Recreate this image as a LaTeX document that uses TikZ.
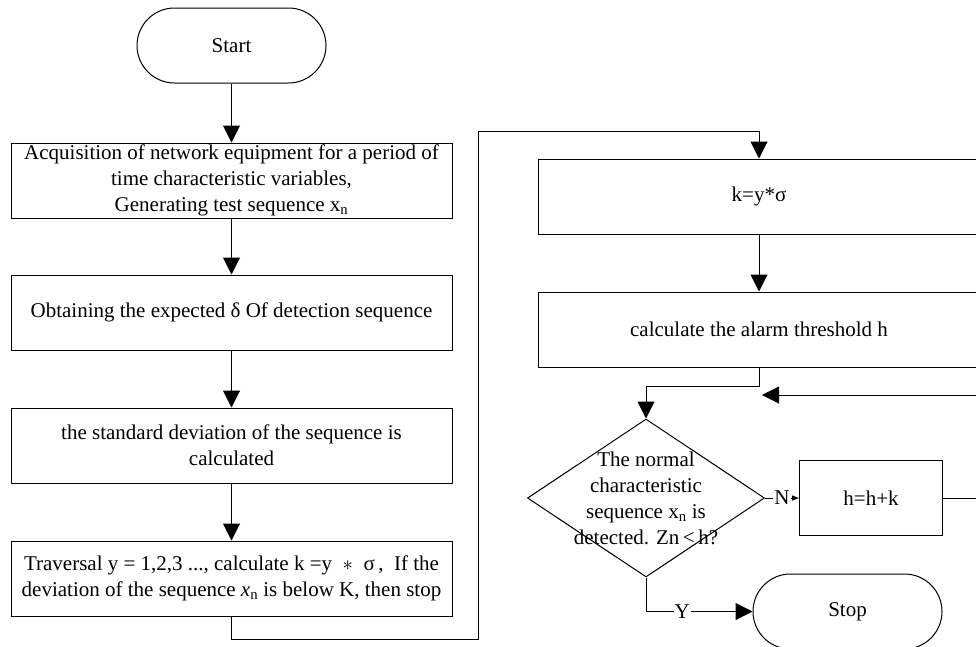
\documentclass[tikz,border=0pt]{standalone}
\usepackage{fontspec}
\setmainfont{Liberation Serif}
\usepackage{tikz}
\usetikzlibrary{arrows.meta,positioning,shapes.geometric,calc}

\begin{document}
\begin{tikzpicture}[x=1pt, y=-1pt,
  every node/.style={font=\fontsize{21}{26}\selectfont},
  stepbox/.style={draw, line width=1pt, minimum width=441pt, minimum height=75pt,
              inner sep=1pt, align=center},
  term/.style={draw, line width=1pt, rounded corners=37.5pt, minimum width=189pt,
              minimum height=75pt},
  cond/.style={draw, line width=1pt, diamond, inner sep=0pt, minimum width=237pt,
              minimum height=158pt},
  arr/.style={-{Triangle[length=17pt, width=17pt]}, line width=1pt},
  lbl/.style={fill=white, inner sep=1pt}
]
  \useasboundingbox (0,0) rectangle (976,646);
  \clip (0,0) rectangle (976,646);

  % left column
  \node[term] (start) at (231.5,45.5) {Start};
  \node[stepbox, below=59pt of start] (acq)
    {Acquisition of network equipment for a period of\\
     time characteristic variables,\\
     Generating test sequence x\textsubscript{n}};
  \node[stepbox, below=56pt of acq]  (mean) {Obtaining the expected δ Of detection sequence};
  \node[stepbox, below=57pt of mean] (dev)
    {the standard deviation of the sequence is\\calculated};
  \node[stepbox, below=57pt of dev]  (trav)
    {Traversal y = 1,2,3 ..., calculate k =y \ $\ast$ \ σ\,, \ If the\\
     deviation of the sequence \textit{x}\textsubscript{n} is below K, then stop};

  % right column
  \node[stepbox] (kval) at (759,196.5) {k=y*σ};
  \node[stepbox, below=57pt of kval] (alarm) {calculate the alarm threshold h};
  \node[cond] (check) at (646,498) {};
  \node[align=center] (checktxt) at (check)
    {The normal\\characteristic\\sequence x\textsubscript{n} is\\detected. Zn\,<\,h?};
  \node[stepbox, minimum width=143pt, right=34pt of check] (incr) {h=h+k};
  \node[term] (stop) at (847.5,611.5) {Stop};

  \coordinate (low)  at (478,639);
  \coordinate (high) at (478,131);
  \coordinate (edge) at (995,498);
  \coordinate (ret)  at (762,395);

  \draw[arr] (start) -- (acq);
  \draw[arr] (acq) -- (mean);
  \draw[arr] (mean) -- (dev);
  \draw[arr] (dev) -- (trav);
  \draw[arr] (trav.south) |- (low) -- (high) -| (kval.north);
  \draw[arr] (kval) -- (alarm);
  \draw[arr] (alarm.south) -- ++(0,19) -| (check.north);
  \draw[-{Triangle[length=7pt, width=5pt]}, line width=1pt] (check.east) --
    node[lbl]{N} (incr.west);
  \draw[arr] (incr.east) -- (edge) |- (ret);
  \draw[arr] (check.south) |- node[lbl, pos=0.67]{Y} (stop.west);
\end{tikzpicture}
\end{document}
